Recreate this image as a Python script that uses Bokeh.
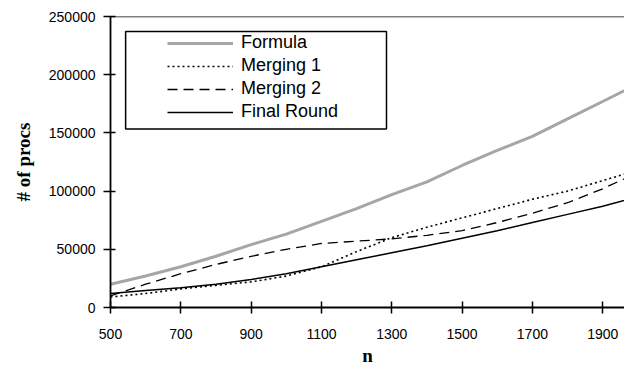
from bokeh.plotting import figure
from bokeh.models import Range1d, Legend, LegendItem, BoxAnnotation, Span, FixedTicker, BasicTickFormatter
from bokeh.embed import file_html
from bokeh.resources import INLINE

n = [500, 600, 700, 800, 900, 1000, 1100, 1200, 1300, 1400, 1500, 1600, 1700, 1800, 1900, 2000]
formula = [20000, 27000, 35000, 44000, 54000, 63000, 74000, 85000, 97000, 108000, 122000, 135000, 147000, 162000, 177000, 192000]
merging1 = [9000, 12000, 16000, 19000, 22000, 27000, 35000, 48000, 60000, 69000, 77000, 85000, 93000, 100000, 109000, 118000]
merging2 = [10000, 20000, 29000, 37000, 44000, 50000, 55000, 57000, 59000, 62000, 66000, 73000, 81000, 90000, 102000, 116000]
final_round = [12000, 14500, 17000, 20000, 24000, 29000, 35000, 41000, 47000, 53000, 59500, 66000, 73000, 80000, 87000, 95000]

x_ticks = [500, 700, 900, 1100, 1300, 1500, 1700, 1900]
y_ticks = [0, 50000, 100000, 150000, 200000, 250000]

p = figure(width=624, height=368, output_backend="svg", toolbar_location=None,
           x_range=Range1d(500, 1962), y_range=Range1d(0, 250000),
           min_border_left=110, min_border_right=0, min_border_top=16, min_border_bottom=60)
p.outline_line_color = None
p.xgrid.grid_line_color = None
p.ygrid.grid_line_color = None

r1 = p.line(n, formula, line_color="#a6a6a6", line_width=3)
r2 = p.line(n, merging1, line_color="black", line_width=1.6, line_dash="2 3")
r3 = p.line(n, merging2, line_color="black", line_width=1.3, line_dash="10 6")
r4 = p.line(n, final_round, line_color="black", line_width=1.5)

p.add_layout(Span(location=250000, dimension="width", line_color="black", line_width=1.5))

for ax in (p.xaxis[0], p.yaxis[0]):
    ax.axis_line_color = "black"
    ax.axis_line_width = 1.8
    ax.major_tick_line_color = "black"
    ax.major_tick_line_width = 1.5
    ax.minor_tick_line_color = None
    ax.major_label_text_font = "Liberation Sans"
    ax.major_label_text_font_size = "14px"
    ax.major_label_text_color = "black"
    ax.axis_label_text_font = "Liberation Serif"
    ax.axis_label_text_font_style = "bold"
    ax.axis_label_text_font_size = "19px"
    ax.axis_label_text_color = "black"
    ax.formatter = BasicTickFormatter(use_scientific=False)

p.xaxis[0].ticker = FixedTicker(ticks=x_ticks)
p.yaxis[0].ticker = FixedTicker(ticks=y_ticks)
p.xaxis[0].major_tick_in = 6
p.xaxis[0].major_tick_out = 6
p.yaxis[0].major_tick_in = 5
p.yaxis[0].major_tick_out = 7
p.xaxis[0].major_label_standoff = 15
p.yaxis[0].major_label_standoff = 8
p.xaxis[0].axis_label = "n"
p.yaxis[0].axis_label = "# of procs"
p.xaxis[0].axis_label_standoff = 3
p.yaxis[0].axis_label_standoff = 12

p.add_layout(BoxAnnotation(left=543, right=1285, bottom=153300, top=237200,
                           fill_alpha=0, line_color="black", line_alpha=1.0, line_width=1.5))

legend = Legend(items=[
    LegendItem(label="Formula", renderers=[r1]),
    LegendItem(label="Merging 1", renderers=[r2]),
    LegendItem(label="Merging 2", renderers=[r3]),
    LegendItem(label="Final Round", renderers=[r4]),
], location=(53, 181))
legend.border_line_alpha = 0
legend.background_fill_alpha = 0
legend.padding = 4
legend.spacing = 2
legend.glyph_width = 66
legend.glyph_height = 18
legend.label_height = 18
legend.label_standoff = 8
legend.label_text_font = "Liberation Sans"
legend.label_text_font_size = "18px"
legend.label_text_color = "black"
legend.margin = 0
p.add_layout(legend)

open("out.html", "w").write(file_html(p, INLINE))
